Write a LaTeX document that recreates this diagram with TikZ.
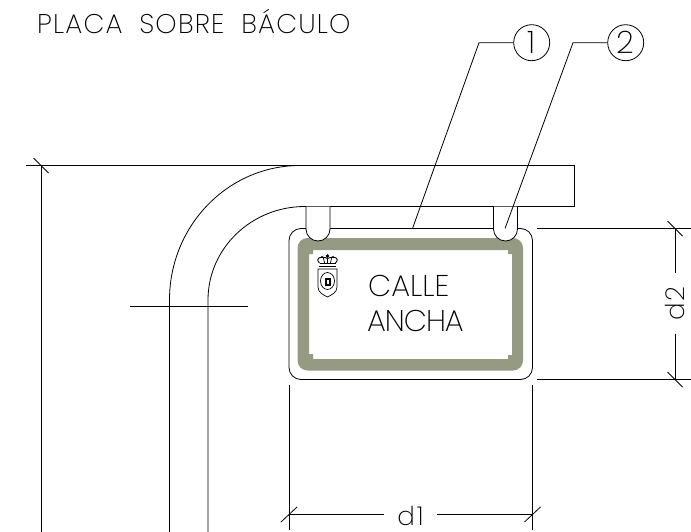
\documentclass[tikz,border=0pt]{standalone}
\usepackage{fontspec}
\usepackage{xcolor}
\usetikzlibrary{positioning}
\newfontfamily\cadfont{Poppins ExtraLight}
\definecolor{framecolor}{RGB}{149,154,130}

\begin{document}
\begin{tikzpicture}[
            x=1pt, y=-1pt,
            cadline/.style={line width=0.8pt, black},
            tick/.style={line width=0.8pt, black},
            titletext/.style={anchor=base west, inner sep=0pt, font=\cadfont\fontsize{27}{27}\selectfont\addfontfeature{LetterSpace=4.5}},
            platetext/.style={anchor=base west, inner sep=0pt, font=\cadfont\fontsize{30}{30}\selectfont},
            dimtext/.style={inner xsep=13pt, inner ysep=0pt, font=\cadfont\fontsize{26}{26}\selectfont\addfontfeature{LetterSpace=8}},
            callout/.style={circle, draw, line width=0.8pt, minimum size=36pt, inner sep=0pt, font=\cadfont\fontsize{31}{31}\selectfont},
            hanger/.style={draw, fill=white, line width=0.8pt}
        ]
            \useasboundingbox (0,0) rectangle (691,532);

            \node[titletext] (title) at (37,33.5) {PLACA\hspace{8pt} SOBRE\hspace{8pt} BÁCULO};

            % arm and pole
            \draw[cadline] (26,165.5) -- (574.5,165.5) -- (574.5,206.5) -- (305,206.5);
            \draw[cadline] (169.5,532) -- (169.5,300) arc[start angle=180, end angle=270, x radius=130.5, y radius=134.5];
            \draw[cadline] (208,532) -- (208,300) arc[start angle=180, end angle=270, x radius=97, y radius=93.5];
            \draw[cadline] (130,306.5) -- (248,306.5);

            % plate
            \fill[framecolor, even odd rule] [rounded corners=10pt] (297.5,238) rectangle (523,370.5)
                [sharp corners] (313,250) -- (508,250) -- (508,254) -- (512,254) -- (512,355) -- (508,355) -- (508,359)
                -- (313,359) -- (313,354) -- (309,354) -- (309,254) -- (313,254) -- cycle;
            \draw[cadline, rounded corners=12pt] (289,228.5) rectangle (532.5,379.5);

            \draw[hanger] (306,206.5) -- (306,229) arc[start angle=180, end angle=0, radius=12] -- (330,206.5);
            \draw[hanger] (493.5,206.5) -- (493.5,229) arc[start angle=180, end angle=0, radius=12] -- (517.5,206.5);

            % crest
            \draw[cadline, line width=0.7pt] (318,269) -- (337,269) -- (337,287) .. controls (337,293) and (331,295) .. (327.5,297)
                .. controls (324,295) and (318,293) .. (318,287) -- cycle;
            \draw[cadline, line width=0.7pt] (327.5,281) ellipse[x radius=7, y radius=8.5];
            \draw[cadline, fill=black] (325,278) rectangle (330,285);
            \fill[white] (326.5,280) rectangle (328.5,283.5);
            \draw[cadline, line width=1.2pt] (319,266.5) -- (336,266.5);
            \draw[cadline, line width=1pt] (319.5,263) -- (335.5,263);
            \draw[cadline, line width=0.9pt] (319.5,263) .. controls (314.5,258) and (321,255.5) .. (327.5,258.5)
                .. controls (334,255.5) and (340.5,258) .. (335.5,263);
            \draw[cadline, line width=0.7pt] (327.5,258.5) -- (327.5,263) (323.5,258) -- (324.5,263) (331.5,258) -- (330.5,263);
            \fill (327.5,256) circle[radius=1.8] (322,257) circle[radius=1.2] (333,257) circle[radius=1.2];

            \node[platetext] (calle) at (368,296) {CALLE};
            \node[platetext, font=\cadfont\fontsize{30}{30}\selectfont\addfontfeature{LetterSpace=-3.5}] (ancha) at (367,331) {ANCHA};

            % callouts
            \node[callout] (num1) at (531.7,42.7) {1};
            \node[callout] (num2) at (625.7,42.7) {2};
            \coordinate (knee1) at (479,42.7);
            \coordinate (knee2) at (573,42.7);
            \coordinate (foot1) at (412.5,228.5);
            \coordinate (foot2) at (505,228.5);
            \draw[cadline] (num1) -- (knee1) -- (foot1);
            \draw[cadline] (num2) -- (knee2) -- (foot2);

            % dimension height
            \draw[cadline] (41,165.5) -- (41,532);
            \draw[tick] (33.5,158) -- (48.5,173);

            % dimension d1
            \node[dimtext] (d1) at (410.5,515.5) {d1};
            \coordinate (d1left) at (289,514.5);
            \coordinate (d1right) at (532.5,514.5);
            \draw[cadline] (d1.west |- d1left) -- (d1left);
            \draw[cadline] (d1.east |- d1right) -- (d1right);
            \draw[cadline] (289,385) -- (289,530);
            \draw[cadline] (532.5,385) -- (532.5,530);
            \draw[tick] (281,522) -- (297,507);
            \draw[tick] (524.5,522) -- (540.5,507);

            % dimension d2
            \node[dimtext, rotate=90] (d2) at (674.5,303.5) {d2};
            \coordinate (d2top) at (675,228.5);
            \coordinate (d2bot) at (675,379.5);
            \draw[cadline] (d2.east -| d2top) -- (d2top);
            \draw[cadline] (d2.west -| d2bot) -- (d2bot);
            \draw[cadline] (537,228.5) -- (691,228.5);
            \draw[cadline] (537,379.5) -- (691,379.5);
            \draw[tick] (667.5,221) -- (682.5,236);
            \draw[tick] (667.5,372) -- (682.5,387);
        \end{tikzpicture}
\end{document}
